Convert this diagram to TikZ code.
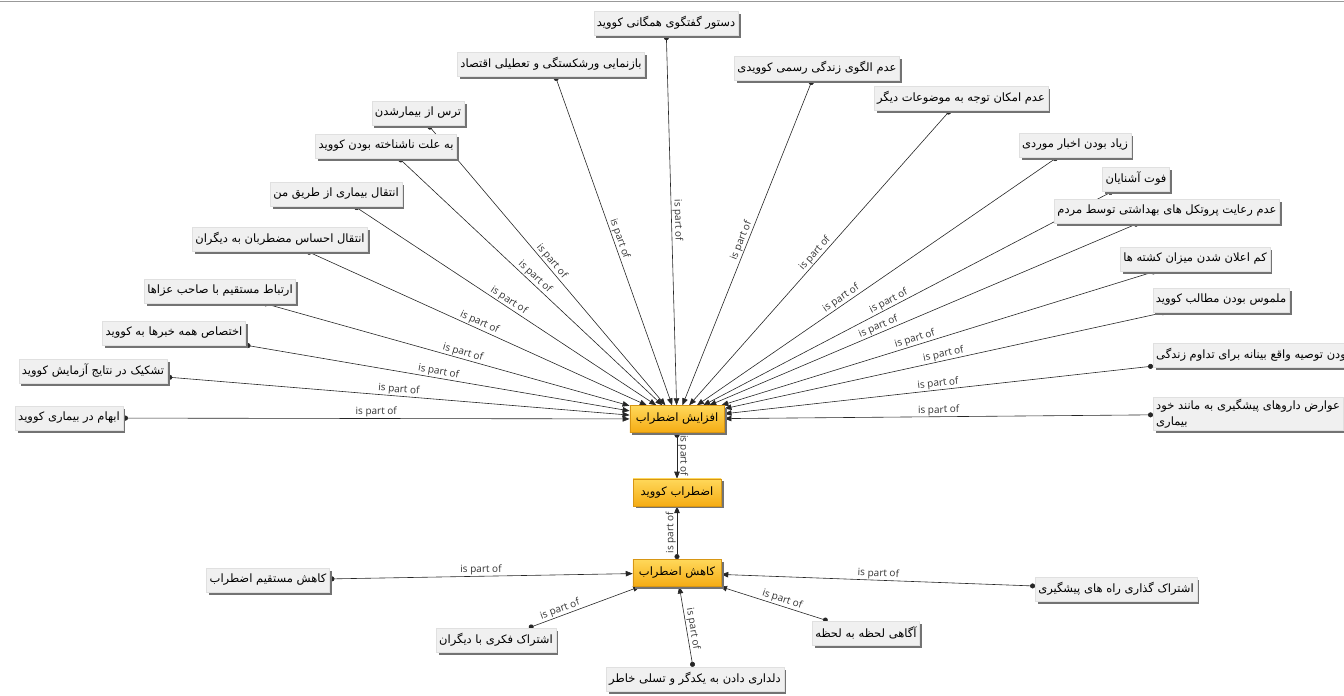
\documentclass[tikz,border=0pt]{standalone}
\usepackage{fontspec}
\usepackage{tikz}
\usetikzlibrary{arrows.meta,positioning,shadows,backgrounds}
\TeXXeTstate=1
\newfontfamily\farsi[Script=Arabic]{DejaVu Sans}
\newfontfamily\relfont{Open Sans}
\definecolor{coreTop}{RGB}{255,216,90}
\definecolor{coreBottom}{RGB}{245,172,20}
\definecolor{coreEdge}{RGB}{215,150,20}
\newcommand{\conceptName}[1]{%
	{\farsi\beginR #1\endR}\hspace{9pt}%
}
\newcommand{\coreName}[1]{%
	{\farsi\beginR #1\endR}%
}

\begin{document}
\begin{tikzpicture} %
		[
			x=1pt, y=-1pt,
			concept/.style={
				draw=black!12,
				fill=black!6,
				minimum height=24pt,
				inner xsep=3pt,
				inner ysep=2pt,
				font=\fontsize{11.5}{16}\selectfont,
				drop shadow={shadow xshift=2.5pt, shadow yshift=-2.5pt, fill=black!55, opacity=1},
			},
			core/.style={
				concept,
				draw=coreEdge,
				top color=coreTop,
				bottom color=coreBottom,
				minimum height=27pt,
				minimum width=88pt,
				inner xsep=6pt,
				node distance=46pt,
			},
			arch/.style={{Circle[length=5pt]}-{Triangle[length=7pt,width=5.5pt]}, draw=black!85, line width=0.6pt},
			transit/.style={font={\relfont\fontsize{10}{12}\selectfont}, text=black!80, sloped, above, inner sep=1pt, midway},
		]
		\useasboundingbox (0,0) rectangle (1344,696);
		\draw[black!40, line width=1.2pt] (0,1.5) -- (1344,1.5);
		% the three core states
		\node[core] (incr) at (677,419) {\coreName{افزایش اضطراب}};
		\node[core, below =of incr] (covid) {\coreName{اضطراب کووید}};
		\node[core, below =53pt of covid] (decr) {\coreName{کاهش اضطراب}};
		% causes of increase
		\node[concept] (c1) at (666,23) {\conceptName{دستور گفتگوی همگانی کووید}};
		\node[concept] (c2) at (551,64) {\conceptName{بازنمایی ورشکستگی و تعطیلی اقتصاد}};
		\node[concept] (c3) at (817,68) {\conceptName{عدم الگوی زندگی رسمی کوویدی}};
		\node[concept] (c4) at (961,98) {\conceptName{عدم امکان توجه به موضوعات دیگر}};
		\node[concept] (c5) at (418,113) {\conceptName{ترس از بیمارشدن}};
		\node[concept] (c6) at (386,146) {\conceptName{به علت ناشناخته بودن کووید}};
		\node[concept] (c7) at (1075,145) {\conceptName{زیاد بودن اخبار موردی}};
		\node[concept] (c8) at (1136,179) {\conceptName{فوت آشنایان}};
		\node[concept] (c9) at (1167,211) {\conceptName{عدم رعایت پروتکل های بهداشتی توسط مردم}};
		\node[concept] (c10) at (336,194) {\conceptName{انتقال بیماری از طریق من}};
		\node[concept] (c11) at (280,239) {\conceptName{انتقال احساس مضطربان به دیگران}};
		\node[concept] (c12) at (1195,259) {\conceptName{کم اعلان شدن میزان کشته ها}};
		\node[concept] (c13) at (220,291) {\conceptName{ارتباط مستقیم با صاحب عزاها}};
		\node[concept] (c14) at (1221,300) {\conceptName{ملموس بودن مطالب کووید}};
		\node[concept] (c15) at (174,333) {\conceptName{اختصاص همه خبرها به کووید}};
		\node[concept] (c16) at (93,371) {\conceptName{تشکیک در نتایج آزمایش کووید}};
		\node[concept, anchor=west] (c17) at (1153,355) {\conceptName{بودن توصیه واقع بینانه برای تداوم زندگی}};
		\node[concept] (c18) at (69,418) {\conceptName{ابهام در بیماری کووید}};
		\node[concept, anchor=west, align=left] (c19) at (1153,414) 
		{\conceptName{عوارض داروهای پیشگیری به مانند خود}\\\conceptName{بیماری}};
		% ways of decrease
		\node[concept] (d1) at (268,580) {\conceptName{کاهش مستقیم اضطراب}};
		\node[concept] (d2) at (496,640) {\conceptName{اشتراک فکری با دیگران}};
		\node[concept] (d3) at (695,679) {\conceptName{دلداری دادن به یکدگر و تسلی خاطر}};
		\node[concept] (d4) at (866,633) {\conceptName{آگاهی لحظه به لحظه}};
		\node[concept] (d5) at (1116,589) {\conceptName{اشتراک گذاری راه های پیشگیری}};
		\begin{scope}[on background layer]
		\draw[arch] (c1) -- node[transit]{is part of} (incr);
		\draw[arch] (c2) -- node[transit]{is part of} (incr);
		\draw[arch] (c3) -- node[transit]{is part of} (incr);
		\draw[arch] (c4) -- node[transit]{is part of} (incr);
		\draw[arch] (c5) -- node[transit]{is part of} (incr);
		\draw[arch] (c6) -- node[transit]{is part of} (incr);
		\draw[arch] (c7) -- node[transit, pos=0.59]{is part of} (incr);
		\draw[arch] (c8) -- node[transit, pos=0.54]{is part of} (incr);
		\draw[arch] (c9) -- node[transit, pos=0.6]{is part of} (incr);
		\draw[arch] (c10) -- node[transit]{is part of} (incr);
		\draw[arch] (c11) -- node[transit]{is part of} (incr);
		\draw[arch] (c12) -- node[transit, pos=0.55]{is part of} (incr);
		\draw[arch] (c13) -- node[transit, pos=0.54]{is part of} (incr);
		\draw[arch] (c14) -- node[transit]{is part of} (incr);
		\draw[arch] (c15) -- node[transit]{is part of} (incr);
		\draw[arch] (c16) -- node[transit]{is part of} (incr);
		\draw[arch] (c17) -- node[transit]{is part of} (incr);
		\draw[arch] (c18) -- node[transit]{is part of} (incr);
		\draw[arch] (c19) -- node[transit]{is part of} (incr);
		\draw[arch] 
		(incr) 
		-- node[transit]{is part of} 
		(covid);
		\draw[arch] 
		(decr) 
		-- node[transit]{is part of} 
		(covid);
		\draw[arch] (d1) -- node[transit]{is part of} (decr);
		\draw[arch] (d2) -- node[transit, pos=0.3]{is part of} (decr);
		\draw[arch] (d3) -- node[transit, pos=0.46]{is part of} (decr);
		\draw[arch] (d4) -- node[transit, pos=0.44]{is part of} (decr);
		\draw[arch] (d5) -- node[transit]{is part of} (decr);
		\end{scope}
	\end{tikzpicture}
\end{document}
